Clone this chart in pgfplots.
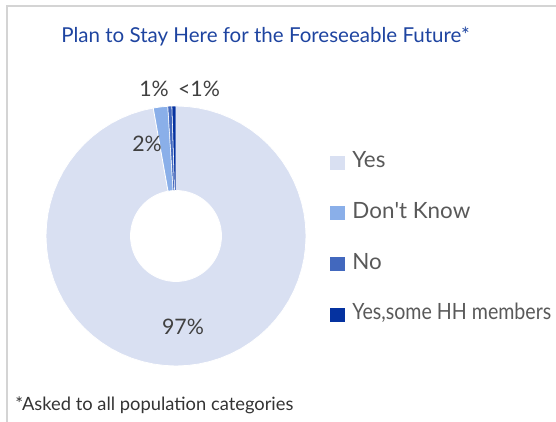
\documentclass[border=0pt]{standalone}
\usepackage{fontspec}
\setmainfont{Lato}
\usepackage{graphicx}
\usepackage{pgfplots}
\pgfplotsset{compat=1.18}
\usepackage{pgfplotstable}
\definecolor{cYes}{HTML}{D9E0F2}
\definecolor{cDK}{HTML}{8AAFE9}
\definecolor{cNo}{HTML}{4268BE}
\definecolor{cHH}{HTML}{0532A0}
\definecolor{titleblue}{HTML}{1E44A0}
\definecolor{legtext}{HTML}{595959}
\definecolor{labtext}{HTML}{404040}
\definecolor{frame}{HTML}{D4D4D4}
% shares (percent), clockwise from 12 o'clock
\pgfplotstableread{
category share
Yes 97.2
DontKnow 1.8
No 0.5
YesSomeHH 0.5
}\sharetable
\begin{document}
\begin{tikzpicture}[x=0.75pt,y=0.75pt]
\useasboundingbox (0,0) rectangle (556,421);
\draw[frame, line width=1.5pt] (7,-2) -- (7,415) -- (560,415);
\node[anchor=base, text=titleblue, font=\fontsize{15.4}{18}\selectfont] at (265.5,378) {Plan to Stay Here for the Foreseeable Future*};
\node[anchor=base west, text=black!80, font=\fontsize{13.75}{16}\selectfont, inner sep=0pt] at (15,11) {*Asked to all population categories};
\begin{axis}[
  at={(132pt,138.75pt)}, anchor=origin,
  hide axis, scale only axis, width=195pt, height=195pt,
  xmin=-1, xmax=1, ymin=-1, ymax=1, clip=false,
  legend style={at={(1.073,0.835)}, anchor=north west, draw=none, fill=none,
    font=\fontsize{16.8}{19}\selectfont, text=legtext,
    nodes={inner sep=0pt, text height=12pt, text depth=4pt, anchor=west},
    row sep=22pt, column sep=5pt},
  legend cell align=left,
  legend image code/.code={\fill[#1] (0pt,-5.6pt) rectangle (11.8pt,5.6pt);},
]
\addplot[data cs=polar, fill=cYes, draw=white, line width=0.6pt] coordinates {
(90,1) (85,1) (80,1) (75,1) (70,1) (65,1) (60,1) (55,1) (50,1) (45,1) (40,1) (35,1) (30,1) (25,1) (20,1) (15,1) (10,1) (5,1) (0,1)
(-5,1) (-10,1) (-15,1) (-20,1) (-25,1) (-30,1) (-35,1) (-40,1) (-45,1) (-50,1) (-55,1) (-60,1) (-65,1) (-70,1) (-75,1) (-80,1) (-85,1) (-90,1)
(-95,1) (-100,1) (-105,1) (-110,1) (-115,1) (-120,1) (-125,1) (-130,1) (-135,1) (-140,1) (-145,1) (-150,1) (-155,1) (-160,1) (-165,1) (-170,1) (-175,1) (-180,1)
(-185,1) (-190,1) (-195,1) (-200,1) (-205,1) (-210,1) (-215,1) (-220,1) (-225,1) (-230,1) (-235,1) (-240,1) (-245,1) (-250,1) (-255,1) (-259.92,1)
(-259.92,0.35) (-255,0.35) (-250,0.35) (-245,0.35) (-240,0.35) (-235,0.35) (-230,0.35) (-225,0.35) (-220,0.35) (-215,0.35) (-210,0.35) (-205,0.35) (-200,0.35) (-195,0.35) (-190,0.35) (-185,0.35)
(-180,0.35) (-175,0.35) (-170,0.35) (-165,0.35) (-160,0.35) (-155,0.35) (-150,0.35) (-145,0.35) (-140,0.35) (-135,0.35) (-130,0.35) (-125,0.35) (-120,0.35) (-115,0.35) (-110,0.35) (-105,0.35) (-100,0.35) (-95,0.35)
(-90,0.35) (-85,0.35) (-80,0.35) (-75,0.35) (-70,0.35) (-65,0.35) (-60,0.35) (-55,0.35) (-50,0.35) (-45,0.35) (-40,0.35) (-35,0.35) (-30,0.35) (-25,0.35) (-20,0.35) (-15,0.35) (-10,0.35) (-5,0.35)
(0,0.35) (5,0.35) (10,0.35) (15,0.35) (20,0.35) (25,0.35) (30,0.35) (35,0.35) (40,0.35) (45,0.35) (50,0.35) (55,0.35) (60,0.35) (65,0.35) (70,0.35) (75,0.35) (80,0.35) (85,0.35) (90,0.35) (90,1)
};
\addlegendentry{Yes}
\addplot[data cs=polar, fill=cDK, draw=white, line width=0.6pt] coordinates {
(-259.92,1) (-263.16,1) (-266.4,1) (-266.4,0.35) (-263.16,0.35) (-259.92,0.35) (-259.92,1)
};
\addlegendentry{Don\textquotesingle t Know}
\addplot[data cs=polar, fill=cNo, draw=white, line width=0.4pt] coordinates {
(-266.4,1) (-268.2,1) (-268.2,0.35) (-266.4,0.35) (-266.4,1)
};
\addlegendentry{No}
\addplot[data cs=polar, fill=cHH, draw=white, line width=0.4pt] coordinates {
(-268.2,1) (-270,1) (-270,0.35) (-268.2,0.35) (-268.2,1)
};
\addlegendentry{\scalebox{0.875}[1]{Yes,some HH members}}
\end{axis}
\begin{scope}[every node/.style={text=labtext, font=\fontsize{16}{19}\selectfont, inner sep=0pt}]
\node at (183,94.5) {97\%};
\node at (147,277) {2\%};
\node at (154,332.5) {1\%};
\node at (199,332.5) {<1\%};
\end{scope}
\end{tikzpicture}
\end{document}
